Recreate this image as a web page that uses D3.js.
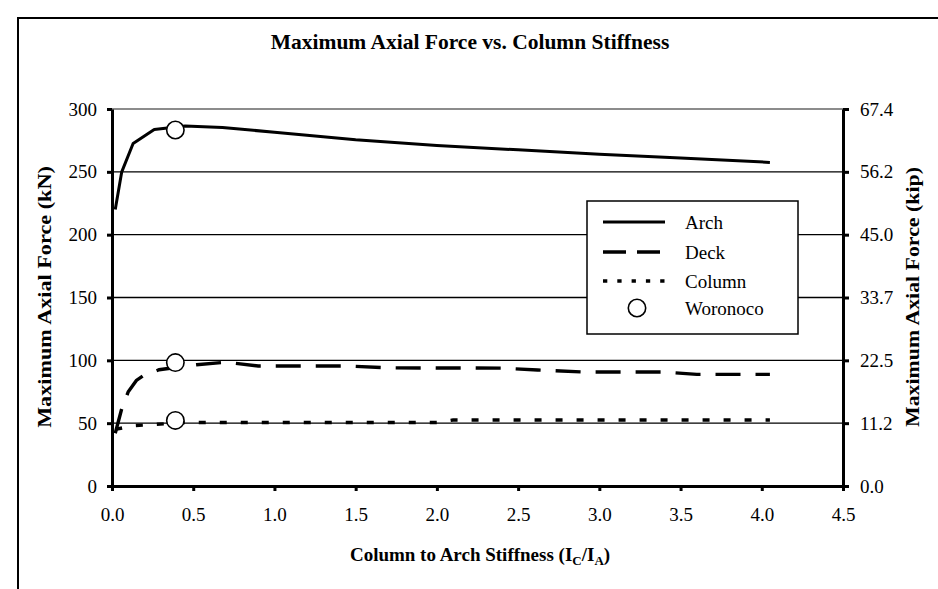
<!DOCTYPE html>
<html>
<head>
<meta charset="utf-8">
<script src="https://cdn.jsdelivr.net/npm/d3@7"></script>
<style>
  html, body { margin: 0; padding: 0; background: #fff; }
  svg { display: block; }
  text { font-family: "Liberation Serif", "Times New Roman", serif; fill: #000; }
</style>
</head>
<body>
<svg id="chart" width="938" height="589"></svg>
<script>
// Column-to-arch stiffness ratio (Ic/Ia) and maximum axial force (kN)
const archX   = [0.02, 0.06, 0.13, 0.26, 0.45, 0.68, 1.0, 1.5, 2.0, 2.5, 3.0, 3.5, 4.05];
const archKN  = [220, 250, 272.5, 283.7, 286.5, 285.3, 281.5, 275.5, 271, 267.5, 264, 261, 257.5];

const deckX   = [0.02, 0.06, 0.1, 0.15, 0.19, 0.29, 0.52, 0.7, 0.9, 1.45, 1.7, 2.4, 2.62, 2.9, 3.4, 3.6, 4.05];
const deckKN  = [42, 61.5, 75, 84, 87.5, 92.5, 96.5, 98.5, 95.5, 95.5, 94, 93.8, 92.3, 90.7, 90.7, 88.8, 88.8];

const colX    = [0.02, 0.13, 0.26, 0.45, 2.0, 2.1, 4.05];
const colKN   = [45, 48, 49, 50.5, 50.5, 52.5, 52.5];

// Woronoco bridge: one ratio, one value per member
const woronocoX  = 0.39;
const woronocoKN = [283.3, 98.2, 52.2];

const xTicks      = [0, 0.5, 1, 1.5, 2, 2.5, 3, 3.5, 4, 4.5];
const yTicks      = [0, 50, 100, 150, 200, 250, 300];
const kipLabels   = ["0.0", "11.2", "22.5", "33.7", "45.0", "56.2", "67.4"];

const seriesNames = ["Arch", "Deck", "Column", "Woronoco"];

const svg = d3.select("#chart");

const x = d3.scaleLinear().domain([0, 4.5]).range([112, 843]);
const y = d3.scaleLinear().domain([0, 300]).range([486, 109]);

// outer frame
svg.append("rect")
  .attr("x", 18).attr("y", 18).attr("width", 940).attr("height", 600)
  .attr("fill", "none").attr("stroke", "#000").attr("stroke-width", 2);

// title
svg.append("text")
  .attr("x", 470).attr("y", 49)
  .attr("text-anchor", "middle")
  .attr("font-size", 21.5).attr("font-weight", "bold")
  .text("Maximum Axial Force vs. Column Stiffness");

// horizontal gridlines
svg.append("g").selectAll("line")
  .data(yTicks.filter(d => d > 0 && d < 300))
  .join("line")
  .attr("x1", x(0)).attr("x2", x(4.5))
  .attr("y1", d => y(d)).attr("y2", d => y(d))
  .attr("stroke", "#000").attr("stroke-width", 1.3);

// top edge of plot area
svg.append("line")
  .attr("x1", x(0)).attr("x2", x(4.5))
  .attr("y1", y(300)).attr("y2", y(300))
  .attr("stroke", "#8c8c8c").attr("stroke-width", 2.2);

const line = d3.line().x(d => x(d[0])).y(d => y(d[1]));
const zip = (a, b) => a.map((v, i) => [v, b[i]]);

svg.append("path")
  .attr("d", line(zip(archX, archKN)))
  .attr("fill", "none").attr("stroke", "#000").attr("stroke-width", 3)
  .attr("stroke-linejoin", "round");

svg.append("path")
  .attr("d", line(zip(deckX, deckKN)))
  .attr("fill", "none").attr("stroke", "#000").attr("stroke-width", 3.4)
  .attr("stroke-dasharray", "25,15");

svg.append("path")
  .attr("d", line(zip(colX, colKN)))
  .attr("fill", "none").attr("stroke", "#000").attr("stroke-width", 3.4)
  .attr("stroke-dasharray", "7,14");

// axes
function styleAxis(g) {
  g.select(".domain").attr("stroke", "#000").attr("stroke-width", 3);
  g.selectAll(".tick line").attr("stroke", "#000").attr("stroke-width", 3);
  g.selectAll(".tick text")
    .attr("font-family", "Liberation Serif, Times New Roman, serif")
    .attr("font-size", 19).attr("fill", "#000");
}

svg.append("g")
  .attr("transform", `translate(${x(0)},0)`)
  .call(d3.axisLeft(y).tickValues(yTicks).tickSize(5).tickSizeOuter(0).tickPadding(10)
    .tickFormat(d3.format("d")))
  .call(styleAxis);

svg.append("g")
  .attr("transform", `translate(${x(4.5)},0)`)
  .call(d3.axisRight(y).tickValues(yTicks).tickSize(6).tickSizeOuter(0).tickPadding(11)
    .tickFormat((d, i) => kipLabels[i]))
  .call(styleAxis);

svg.append("g")
  .attr("transform", `translate(0,${y(0)})`)
  .call(d3.axisBottom(x).tickValues(xTicks).tickSize(5).tickSizeOuter(0).tickPadding(17)
    .tickFormat(d3.format(".1f")))
  .call(styleAxis);

// Woronoco markers
svg.append("g").selectAll("circle")
  .data(woronocoKN)
  .join("circle")
  .attr("cx", x(woronocoX)).attr("cy", d => y(d)).attr("r", 8.7)
  .attr("fill", "#fff").attr("stroke", "#000").attr("stroke-width", 1.6);

// axis titles (vertical ones run slightly long along their baseline)
svg.append("text")
  .attr("transform", "translate(51,297) rotate(-90) scale(1.17,1)")
  .attr("text-anchor", "middle")
  .attr("font-size", 19).attr("font-weight", "bold")
  .text("Maximum Axial Force (kN)");

svg.append("text")
  .attr("transform", "translate(919,297) rotate(-90) scale(1.15,1)")
  .attr("text-anchor", "middle")
  .attr("font-size", 19).attr("font-weight", "bold")
  .text("Maximum Axial Force (kip)");

const xt = svg.append("text")
  .attr("x", 480).attr("y", 561)
  .attr("text-anchor", "middle")
  .attr("font-size", 19).attr("font-weight", "bold");
xt.append("tspan").text("Column to Arch Stiffness (I");
xt.append("tspan").attr("font-size", 13).attr("dy", 4).text("C");
xt.append("tspan").attr("dy", -4).text("/I");
xt.append("tspan").attr("font-size", 13).attr("dy", 4).text("A");
xt.append("tspan").attr("dy", -4).text(")");

// legend
const lg = svg.append("g");
lg.append("rect")
  .attr("x", 587).attr("y", 201).attr("width", 211).attr("height", 133)
  .attr("fill", "#fff").attr("stroke", "#000").attr("stroke-width", 1.5);

const rowY = [222, 252, 281, 308];
const sampleDash = [null, "23,11", "4.3,10", null];
seriesNames.forEach((name, i) => {
  if (i < 3) {
    lg.append("line")
      .attr("x1", 603).attr("x2", 665)
      .attr("y1", rowY[i]).attr("y2", rowY[i])
      .attr("stroke", "#000").attr("stroke-width", i === 0 ? 3 : 3.4)
      .attr("stroke-dasharray", sampleDash[i]);
  } else {
    lg.append("circle")
      .attr("cx", 637).attr("cy", rowY[i]).attr("r", 8.7)
      .attr("fill", "#fff").attr("stroke", "#000").attr("stroke-width", 1.6);
  }
  lg.append("text")
    .attr("x", 685).attr("y", rowY[i]).attr("dy", "0.35em")
    .attr("font-size", 19)
    .text(name);
});
</script>
</body>
</html>
